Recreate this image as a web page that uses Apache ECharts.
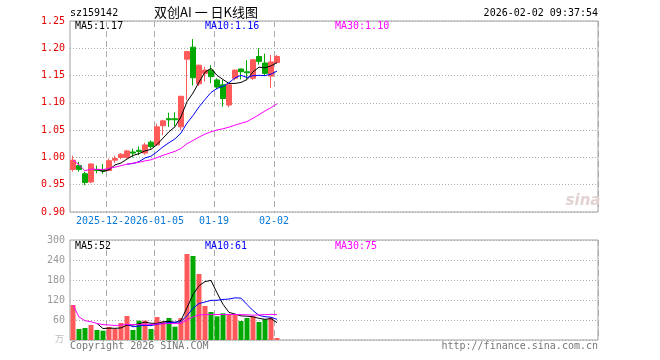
<!DOCTYPE html>
<html><head><meta charset="utf-8">
<script src="https://cdn.jsdelivr.net/npm/echarts@6/dist/echarts.min.js"></script>
<style>html,body{margin:0;padding:0;background:#fff}#c{width:660px;height:360px}</style>
</head><body><div id="c"></div>
<script>
const dates = ['2025-12-12','2025-12-15','2025-12-16','2025-12-17','2025-12-18','2025-12-19','2025-12-22','2025-12-23','2025-12-24','2025-12-25','2025-12-26','2025-12-29','2025-12-30','2025-12-31','2026-01-05','2026-01-06','2026-01-07','2026-01-08','2026-01-09','2026-01-12','2026-01-13','2026-01-14','2026-01-15','2026-01-16','2026-01-19','2026-01-20','2026-01-21','2026-01-22','2026-01-23','2026-01-26','2026-01-27','2026-01-28','2026-01-29','2026-01-30','2026-02-02'];
const opens  = [0.978,0.985,0.970,0.955,0.978,0.978,0.976,0.995,1.000,1.000,1.010,1.013,1.008,1.028,1.023,1.058,1.071,1.071,1.056,1.180,1.202,1.135,1.154,1.160,1.142,1.133,1.096,1.145,1.162,1.157,1.145,1.185,1.173,1.149,1.174];
const closes = [0.995,0.978,0.954,0.988,0.976,0.975,0.994,0.998,1.006,1.012,1.008,1.011,1.023,1.020,1.056,1.067,1.069,1.069,1.112,1.194,1.146,1.169,1.160,1.148,1.129,1.108,1.133,1.160,1.157,1.155,1.179,1.176,1.154,1.175,1.185];
const lows   = [0.974,0.974,0.949,0.953,0.971,0.970,0.975,0.990,0.997,0.998,1.000,1.004,1.005,1.016,1.022,1.041,1.056,1.057,1.050,1.105,1.132,1.131,1.139,1.136,1.125,1.093,1.092,1.141,1.143,1.143,1.142,1.170,1.149,1.127,1.172];
const highs  = [1.003,0.992,0.974,0.989,0.985,0.988,0.998,1.003,1.008,1.014,1.016,1.020,1.027,1.031,1.062,1.069,1.082,1.083,1.113,1.195,1.217,1.170,1.166,1.169,1.145,1.142,1.134,1.161,1.163,1.178,1.180,1.200,1.190,1.188,1.188];
const volumes = [105,33,36,45,30,28,39,33,51,72,30,58,58,33,69,55,66,40,66,258,252,198,102,84,71,80,77,77,57,66,71,54,62,68,6];
const tickIdx = [6,14,24,34];
const tickLabels = ['2025-12-22','2026-01-05','01-19','02-02'];
const priceTicks = [0.90,0.95,1.00,1.05,1.10,1.15,1.20,1.25];
const volTicks = [0,60,120,180,240,300];
const priceMaText = ['MA5:1.17','MA10:1.16','MA30:1.10'];
const volMaText = ['MA5:52','MA10:61','MA30:75'];

const SLOTS = 88;
const cats = dates.concat(new Array(SLOTS - dates.length).fill('').map((s,i)=>' '.repeat(i+1)));
const UP = '#ff5a5a', DOWN = '#00a800';
const MONO = '"DejaVu Sans Mono", monospace';

function ma(arr, n, partial) {
  return arr.map((v, i) => {
    if (i < n - 1 && !partial) return '-';
    const s = Math.max(0, i - n + 1);
    let sum = 0; for (let k = s; k <= i; k++) sum += arr[k];
    return +(sum / (i - s + 1)).toFixed(4);
  });
}
const kData = dates.map((d,i)=>[opens[i],closes[i],lows[i],highs[i]]);
const volData = volumes.map((v,i)=>({value:v,itemStyle:{color: closes[i]>=opens[i]?UP:DOWN}}));

const splitX = {show:true, interval:(i)=>tickIdx.includes(i), lineStyle:{color:'#aaa', type:[6,4], width:1}};
function xAx(gi){
  return {type:'category', gridIndex:gi, data:cats, boundaryGap:true,
    axisLine:{show:false}, axisTick:{show:false}, splitLine:splitX, axisLabel:{show:false}};
}
function txt(x,y,t,color,opt){
  opt=opt||{};
  return {type:'text', z:100, style:Object.assign({x:x,y:y,text:t,fill:color,font:(opt.font||('10px '+MONO)),
    textAlign:opt.align||'left', align:opt.align||'left', textVerticalAlign:'middle', verticalAlign:'middle'}, opt.bg?{backgroundColor:'#fff'}:{})};
}
const chart = echarts.init(document.getElementById('c'), null, {renderer:'canvas'});
const baseGraphic = [
    txt(70,13,'sz159142','#000'),
    txt(206,12,'双创AI 一 日K线图','#000',{align:'center',font:'13px "Noto Sans CJK SC"'}),
    txt(598,13,'2026-02-02 09:37:54','#000',{align:'right'}),
    txt(75,26,priceMaText[0],'#000'),
    txt(205,26,priceMaText[1],'#0000ff'),
    txt(335,26,priceMaText[2],'#ff00ff'),
    txt(75,246,volMaText[0],'#000'),
    txt(205,246,volMaText[1],'#0000ff'),
    txt(335,246,volMaText[2],'#ff00ff'),
    txt(64,339,'万','#bbb',{align:'right',font:'9px "Noto Sans CJK SC"'}),
    txt(70,346,'Copyright 2026 SINA.COM','#777'),
    txt(598,346,'http://finance.sina.com.cn','#777',{align:'right'}),
    txt(583,201,'sina','#e2d2d2',{align:'center',font:'italic bold 15px "DejaVu Sans"'})
];
chart.setOption({
  animation:false,
  grid:[
    {left:70, top:21, width:528, height:191, show:true, borderColor:'#a0a0a0', borderWidth:1, backgroundColor:'transparent'},
    {left:70, top:240, width:528, height:100, show:true, borderColor:'#a0a0a0', borderWidth:1, backgroundColor:'transparent'}
  ],
  xAxis:[xAx(0), xAx(1)],
  yAxis:[
    {type:'value', gridIndex:0, min:0.90, max:1.25, interval:0.05, axisLine:{show:false}, axisTick:{show:false},
      axisLabel:{color:'#e60000', fontFamily:MONO, fontSize:10, margin:5, formatter:(v)=>v.toFixed(2)},
      splitLine:{show:true, lineStyle:{color:'#aaa', type:[1,2], width:1}}},
    {type:'value', gridIndex:1, min:0, max:300, interval:60, axisLine:{show:false}, axisTick:{show:false},
      axisLabel:{color:'#999', fontFamily:MONO, fontSize:10, margin:5, formatter:(v)=>v===0?'':String(v)},
      splitLine:{show:true, lineStyle:{color:'#aaa', type:[1,2], width:1}}}
  ],
  series:[
    {type:'candlestick', xAxisIndex:0, yAxisIndex:0, data:kData, barWidth:5,
      itemStyle:{color:UP, color0:DOWN, borderColor:UP, borderColor0:DOWN, borderWidth:1}},
    {type:'line', xAxisIndex:0, yAxisIndex:0, data:ma(closes,5,false), symbol:'none', lineStyle:{color:'#000',width:1}},
    {type:'line', xAxisIndex:0, yAxisIndex:0, data:ma(closes,10,false), symbol:'none', lineStyle:{color:'#0000ff',width:1}},
    {type:'line', xAxisIndex:0, yAxisIndex:0, data:ma(closes,30,true), symbol:'none', lineStyle:{color:'#ff00ff',width:1}},
    {type:'bar', xAxisIndex:1, yAxisIndex:1, data:volData, barWidth:5},
    {type:'line', xAxisIndex:1, yAxisIndex:1, data:ma(volumes,5,false), symbol:'none', lineStyle:{color:'#000',width:1}},
    {type:'line', xAxisIndex:1, yAxisIndex:1, data:ma(volumes,10,false), symbol:'none', lineStyle:{color:'#0000ff',width:1}},
    {type:'line', xAxisIndex:1, yAxisIndex:1, data:ma(volumes,30,true), symbol:'none', lineStyle:{color:'#ff00ff',width:1}}
  ],
  graphic: baseGraphic
});
// date labels placed at the category boundaries via the axis scale (later labels cover earlier ones)
const labelGraphic = tickIdx.map((idx,k)=>{
  const cx = chart.convertToPixel({xAxisIndex:0}, dates[idx]);
  const bx = cx - 3; // category boundary
  const y0 = chart.convertToPixel({yAxisIndex:0}, 0.90);
  return {type:'text', z:100+k, style:{x:bx, y:y0+9, text:tickLabels[k], fill:'#0a78d6', font:'10px '+MONO,
    textAlign:'center', align:'center', textVerticalAlign:'middle', verticalAlign:'middle', backgroundColor:'#fff', padding:[1,0,1,0]}};
});
chart.setOption({graphic: baseGraphic.concat(labelGraphic)});
</script></body></html>
